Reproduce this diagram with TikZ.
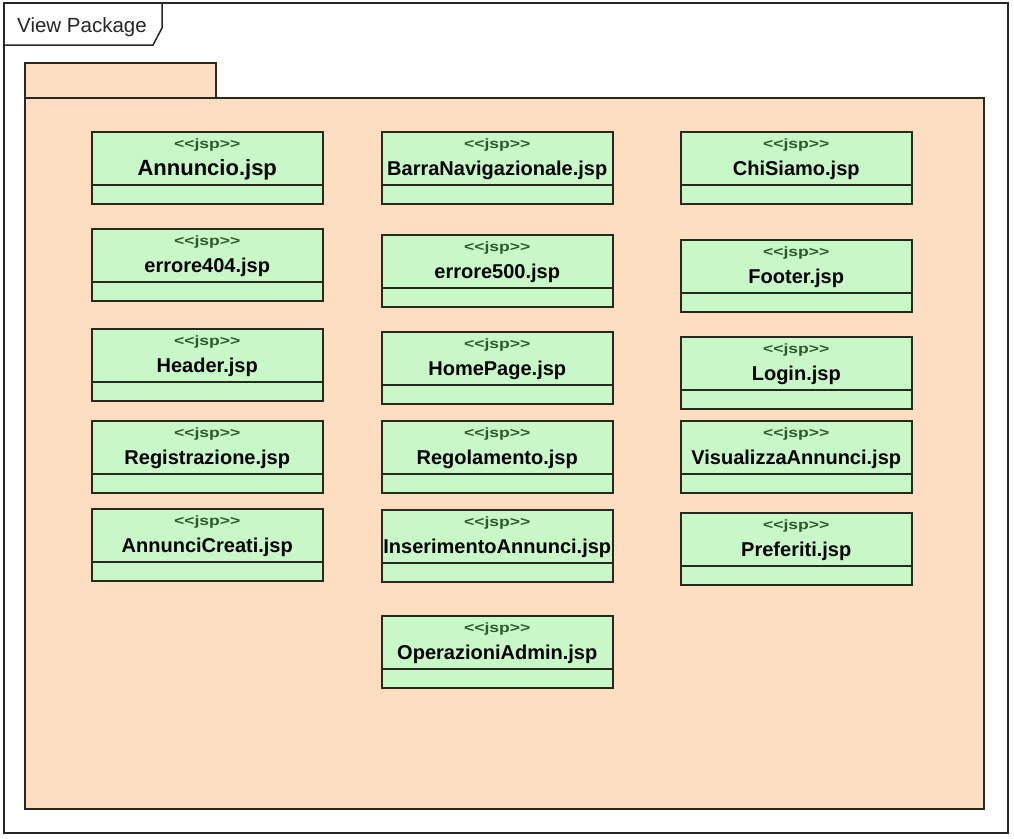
\documentclass[tikz,border=0pt]{standalone}
\usepackage{fontspec}
\setmainfont{Liberation Sans}
\definecolor{pkg}{RGB}{254,222,193}
\definecolor{cls}{RGB}{200,247,200}
\definecolor{stereo}{RGB}{45,90,45}
\definecolor{edge}{RGB}{40,40,30}
\tikzset{
  frameline/.style={draw=black!85, line width=1.5pt},
  pkgbox/.style={draw=edge, fill=pkg, line width=1.3pt},
  jspbox/.style={draw=edge, fill=cls, line width=1.5pt, minimum width=231pt, minimum height=72pt, anchor=north west, inner sep=0pt},
  sepline/.style={draw=edge, line width=1.5pt},
  stereotxt/.style={text=stereo, inner sep=0pt, font=\fontsize{13.5}{13.5}\selectfont\bfseries},
  nametxt/.style={text=black, inner sep=0pt, anchor=base, font=\fontsize{20}{20}\selectfont\bfseries},
  frametxt/.style={text=black!85, inner sep=0pt, anchor=base west, font=\fontsize{20.5}{20.5}\selectfont},
}
\newcommand\jsp[5][20]{%
  \node[jspbox] (#2) at (#3,#4) {};
  \draw[sepline] ([yshift=-54pt]#2.north west) -- ([yshift=-54pt]#2.north east);
  \node[stereotxt] (#2-st) at ([yshift=-14pt]#2.north) {\scalebox{1.3}[1]{<\kern0pt<jsp>\kern0pt>}};
  \node[nametxt, font=\fontsize{#1}{#1}\selectfont\bfseries] (#2-nm) at ([yshift=-44pt]#2.north) {#5};
}
\begin{document}
\begin{tikzpicture}[x=1pt,y=-1pt]
\useasboundingbox (0,0) rectangle (1014,838);
% outer frame
\draw[frameline, fill=white] (4,3) rectangle (1008,833);
\draw[frameline] (4,45) -- (153,45) -- (162,28) -- (162,3);
\node[frametxt] (title) at (17,32) {View Package};
% package
\draw[pkgbox] (25,63) rectangle (216,98);
\draw[pkgbox] (25,98) rectangle (984,809);
% column 1
\jsp[22]{annuncio}{91}{131}{Annuncio.jsp}
\jsp{errore404}{91}{228}{errore404.jsp}
\jsp{header}{91}{328}{Header.jsp}
\jsp{registrazione}{91}{420}{Registrazione.jsp}
\jsp{annuncicreati}{91}{508}{AnnunciCreati.jsp}
% column 2
\jsp{barra}{381}{131}{BarraNavigazionale.jsp}
\jsp{errore500}{381}{234}{errore500.jsp}
\jsp{homepage}{381}{331}{HomePage.jsp}
\jsp{regolamento}{381}{420}{Regolamento.jsp}
\jsp{inserimento}{381}{509}{InserimentoAnnunci.jsp}
\jsp{operazioni}{381}{615}{OperazioniAdmin.jsp}
% column 3
\jsp{chisiamo}{680}{131}{ChiSiamo.jsp}
\jsp{footer}{680}{239}{Footer.jsp}
\jsp{login}{680}{336}{Login.jsp}
\jsp{visualizza}{680}{420}{VisualizzaAnnunci.jsp}
\jsp{preferiti}{680}{512}{Preferiti.jsp}
\end{tikzpicture}
\end{document}
